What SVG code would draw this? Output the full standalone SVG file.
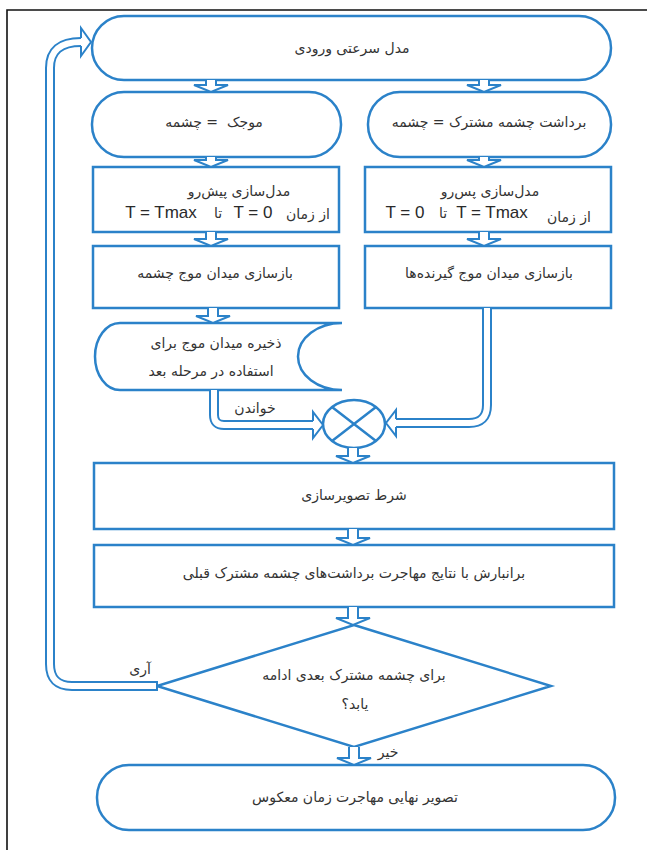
<svg xmlns="http://www.w3.org/2000/svg" width="647" height="850" viewBox="0 0 647 850">
<style>
.b{fill:#fff;stroke:#2b82c9;stroke-width:2.5}
.t{font-family:"DejaVu Sans",sans-serif;font-size:14px;fill:#333;text-anchor:middle}
.l{font-family:"Liberation Sans",Arial,sans-serif;font-size:17px;fill:#2a2a2a;text-anchor:middle}
.co{fill:none;stroke:#2b82c9;stroke-width:10}
.ci{fill:none;stroke:#fff;stroke-width:6}
.hd{fill:#fff;stroke:#2b82c9;stroke-width:2;stroke-linejoin:miter}
.sa{fill:#fff;stroke:#2b82c9;stroke-width:2}
</style>
<rect width="647" height="850" fill="#fff"/>
<path d="M7 850 V10 H647" fill="none" stroke="#111" stroke-width="1.6"/>

<g id="n1"><rect class="b" x="92" y="16" width="519" height="64" rx="32"/><text class="t" x="352" y="53">مدل سرعتی ورودی</text></g>
<g id="n2"><rect class="b" x="92" y="92" width="249" height="65" rx="32"/><text class="t" x="214" y="127">موجک &#160;= چشمه</text></g>
<g id="n3"><rect class="b" x="368" y="92" width="243" height="65" rx="32"/><text class="t" x="489" y="127">برداشت چشمه مشترک = چشمه</text></g>
<g id="n4"><rect class="b" x="93" y="167" width="246" height="65"/>
<text class="t" x="239" y="196">مدل‌سازی پیش‌رو</text>
<text class="l" x="161" y="218">T = Tmax</text><text class="t" x="218" y="218">تا</text><text class="l" x="253" y="218">T = 0</text><text class="t" x="308" y="219">از زمان</text></g>
<g id="n5"><rect class="b" x="365" y="167" width="246" height="65"/>
<text class="t" x="490" y="196">مدل‌سازی پس‌رو</text>
<text class="l" x="405" y="218">T = 0</text><text class="t" x="443" y="218">تا</text><text class="l" x="492" y="218">T = Tmax</text><text class="t" x="569" y="222">از زمان</text></g>
<g id="n6"><rect class="b" x="93" y="246" width="246" height="62"/><text class="t" x="215" y="278">بازسازی میدان موج چشمه</text></g>
<g id="n7"><rect class="b" x="365" y="246" width="246" height="62"/><text class="t" x="489" y="278">بازسازی میدان موج گیرنده‌ها</text></g>
<g id="n8"><path class="b" d="M120 323 H342 A44 33.5 0 0 0 342 390 H120 A25 33.5 0 0 1 120 323 Z"/>
<text class="t" x="216" y="348">ذخیره میدان موج برای</text><text class="t" x="211" y="376">استفاده در مرحله بعد</text></g>
<g id="n9"><ellipse class="b" cx="354" cy="424" rx="31" ry="24"/><path d="M332 407 L376 441 M376 407 L332 441" stroke="#2b82c9" stroke-width="2.5"/></g>
<g id="n10"><rect class="b" x="94" y="463" width="520" height="66"/><text class="t" x="354" y="500">شرط تصویرسازی</text></g>
<g id="n11"><rect class="b" x="94" y="545" width="520" height="62"/><text class="t" x="354" y="578">برانبارش با نتایج مهاجرت برداشت‌های چشمه مشترک قبلی</text></g>
<g id="n12"><path class="b" d="M354 625 L551 686 L354 747 L157 686 Z"/><text class="t" x="354" y="680">برای چشمه مشترک بعدی ادامه</text><text class="t" x="355" y="709">یابد؟</text></g>
<g id="n13"><rect class="b" x="97" y="765" width="518" height="65" rx="32"/><text class="t" x="355" y="802">تصویر نهایی مهاجرت زمان معکوس</text></g>

<g id="connectors">
<path class="co" d="M157 686 H72 Q50 686 50 664 V68 Q50 42 81 42"/>
<path class="ci" d="M157 686 H72 Q50 686 50 664 V68 Q50 42 81 42"/>
<path class="hd" d="M81 38 V28 L91 42 L81 56 V46"/>
<path d="M157 681 V691" stroke="#2b82c9" stroke-width="2"/>

<path class="co" d="M487 308 V405 Q487 423 469 423 H396"/>
<path class="ci" d="M487 308 V405 Q487 423 469 423 H396"/>
<path class="hd" d="M396 419 V410 L386 423 L396 436 V427"/>

<path class="co" d="M214 390 V415 Q214 425 224 425 H313"/>
<path class="ci" d="M214 390 V415 Q214 425 224 425 H313"/>
<path class="hd" d="M313 421 V412 L323 425 L313 438 V429"/>

<path class="sa" d="M206 80 V85 H194 L211 92 L228 85 H216 V80"/>
<path class="sa" d="M479 80 V85 H467 L484 92 L501 85 H489 V80"/>
<path class="sa" d="M206 157 V160 H194 L211 167 L228 160 H216 V157"/>
<path class="sa" d="M479 157 V160 H467 L484 167 L501 160 H489 V157"/>
<path class="sa" d="M206 232 V239 H194 L211 246 L228 239 H216 V232"/>
<path class="sa" d="M479 232 V239 H467 L484 246 L501 239 H489 V232"/>
<path class="sa" d="M208 308 V316 H196 L213 323 L230 316 H218 V308"/>
<path class="sa" d="M348 448 V456 H336 L353 463 L370 456 H358 V448"/>
<path class="sa" d="M348 529 V538 H336 L353 545 L370 538 H358 V529"/>
<path class="sa" d="M348 607 V618 H336 L353 625 L370 618 H358 V607"/>
<path class="sa" d="M349 747 V758 H337 L354 765 L371 758 H359 V747"/>
</g>
<text class="t" x="255" y="413">خواندن</text>
<text class="t" x="140" y="674">آری</text>
<text class="t" x="388" y="757">خیر</text>
</svg>
